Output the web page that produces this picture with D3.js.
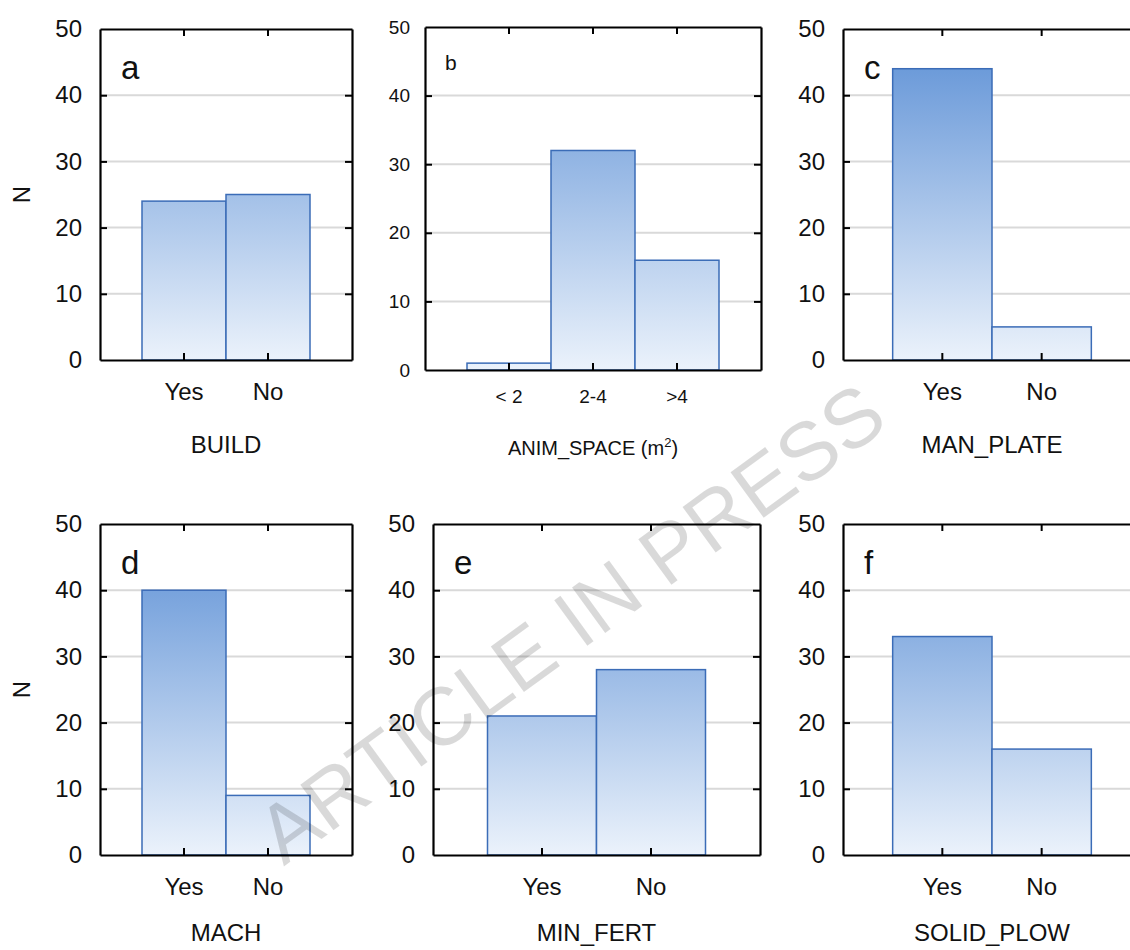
<!DOCTYPE html>
<html>
<head>
<meta charset="utf-8">
<script src="https://cdn.jsdelivr.net/npm/d3@7"></script>
<style>
  body { margin: 0; background: #fff; }
  svg { display: block; font-family: "Liberation Sans", Arial, sans-serif; }
</style>
</head>
<body>
<svg id="chart" width="1130" height="950"></svg>
<script>
// categories
const yesNo = ['Yes', 'No']
const spaceClasses = ['< 2', '2-4', '>4']

// counts
const buildN = [24, 25]
const animSpaceN = [1, 32, 16]
const manPlateN = [44, 5]
const machN = [40, 9]
const minFertN = [21, 28]
const solidPlowN = [33, 16]

const yTicks = [0, 10, 20, 30, 40, 50]
const gridTicks = [10, 20, 30, 40]

// panel frames (pixels)
const panels = [
  { id: 'a', title: 'BUILD', cats: yesNo, values: buildN, x0: 100, x1: 352, y0: 29, y1: 360, small: false, yLabel: true },
  { id: 'b', title: 'ANIM_SPACE (m', sup: '2', cats: spaceClasses, values: animSpaceN, x0: 425, x1: 761, y0: 27, y1: 370, small: true, yLabel: false },
  { id: 'c', title: 'MAN_PLATE', cats: yesNo, values: manPlateN, x0: 843, x1: 1141, y0: 29, y1: 360, small: false, yLabel: false },
  { id: 'd', title: 'MACH', cats: yesNo, values: machN, x0: 100, x1: 352, y0: 524, y1: 855, small: false, yLabel: true },
  { id: 'e', title: 'MIN_FERT', cats: yesNo, values: minFertN, x0: 433, x1: 760, y0: 524, y1: 855, small: false, yLabel: false },
  { id: 'f', title: 'SOLID_PLOW', cats: yesNo, values: solidPlowN, x0: 843, x1: 1141, y0: 524, y1: 855, small: false, yLabel: false }
]

const svg = d3.select('#chart')
const defs = svg.append('defs')
const tick = 7

panels.forEach(p => {
  const x = d3.scaleBand().domain(p.cats).range([p.x0, p.x1]).paddingInner(0).paddingOuter(0.5)
  const y = d3.scaleLinear().domain([0, 50]).range([p.y1, p.y0])
  const fs = p.small ? 19 : 24
  const g = svg.append('g')

  // gradient tied to the value scale, dark at 50, pale at 0
  const grad = defs.append('linearGradient')
    .attr('id', 'grad-' + p.id)
    .attr('gradientUnits', 'userSpaceOnUse')
    .attr('x1', 0).attr('x2', 0)
    .attr('y1', y(50)).attr('y2', y(0))
  grad.append('stop').attr('offset', 0).attr('stop-color', '#5b8fd5')
  grad.append('stop').attr('offset', 1).attr('stop-color', '#ebf2fb')

  // grid
  g.selectAll('.grid').data(gridTicks).join('line')
    .attr('x1', p.x0).attr('x2', p.x1)
    .attr('y1', d => y(d)).attr('y2', d => y(d))
    .attr('stroke', '#d9d9d9').attr('stroke-width', 2)

  // bars
  g.selectAll('.bar').data(p.values).join('rect')
    .attr('x', (d, i) => x(p.cats[i]))
    .attr('width', x.bandwidth())
    .attr('y', d => y(d))
    .attr('height', d => y(0) - y(d))
    .attr('fill', 'url(#grad-' + p.id + ')')
    .attr('stroke', '#3b6cb7')
    .attr('stroke-width', 1.5)

  // axes, ticks pointing inward
  const left = g.append('g').attr('transform', `translate(${p.x0},0)`)
    .call(d3.axisLeft(y).tickValues(yTicks).tickSizeInner(-tick).tickSizeOuter(0).tickPadding(p.small ? 15 : 18))
  const right = g.append('g').attr('transform', `translate(${p.x1},0)`)
    .call(d3.axisRight(y).tickValues(yTicks).tickSizeInner(-tick).tickSizeOuter(0).tickFormat(''))
  const top = g.append('g').attr('transform', `translate(0,${p.y0})`)
    .call(d3.axisTop(x).tickSizeInner(-tick).tickSizeOuter(0).tickFormat(''))
  const bottom = g.append('g').attr('transform', `translate(0,${p.y1})`)
    .call(d3.axisBottom(x).tickSizeInner(-tick).tickSizeOuter(0).tickPadding(p.small ? 20 : 23))

  ;[left, right, top, bottom].forEach(a => {
    a.select('.domain').attr('stroke', '#000').attr('stroke-width', 2.2)
    a.selectAll('.tick line').attr('stroke', '#000').attr('stroke-width', 2)
    a.selectAll('.tick text').attr('font-size', fs).attr('font-family', '"Liberation Sans", Arial, sans-serif').attr('fill', '#111')
  })
  left.selectAll('.tick').filter(d => d === 0 || d === 50).select('line').remove()
  right.selectAll('.tick').filter(d => d === 0 || d === 50).select('line').remove()

  // axis title (bottom row kept just inside the page edge)
  const cx = (p.x0 + p.x1) / 2
  const t = g.append('text')
    .attr('x', cx)
    .attr('y', p.small ? p.y1 + 85 : Math.min(p.y1 + 93, 941))
    .attr('text-anchor', 'middle')
    .attr('font-size', p.small ? 20 : 24)
    .attr('fill', '#111')
  t.append('tspan').text(p.title)
  if (p.sup) {
    t.append('tspan').attr('dy', -8).attr('font-size', 13).text(p.sup)
    t.append('tspan').attr('dy', 8).text(')')
  }

  // panel letter
  g.append('text')
    .attr('x', p.x0 + (p.small ? 20 : 21))
    .attr('y', p.y0 + (p.small ? 43 : 50))
    .attr('font-size', p.small ? 21 : 33)
    .attr('fill', '#111')
    .text(p.id)

  if (p.yLabel) {
    g.append('text')
      .attr('transform', `translate(30,${(p.y0 + p.y1) / 2}) rotate(-90)`)
      .attr('text-anchor', 'middle')
      .attr('font-size', 24)
      .attr('fill', '#111')
      .text('N')
  }
})

// watermark
svg.append('text')
  .attr('transform', 'translate(570,622) rotate(-36)')
  .attr('text-anchor', 'middle')
  .attr('dy', '0.36em')
  .attr('font-size', 82)
  .attr('fill', '#000')
  .attr('fill-opacity', 0.15)
  .text('ARTICLE IN PRESS')
</script>
</body>
</html>
